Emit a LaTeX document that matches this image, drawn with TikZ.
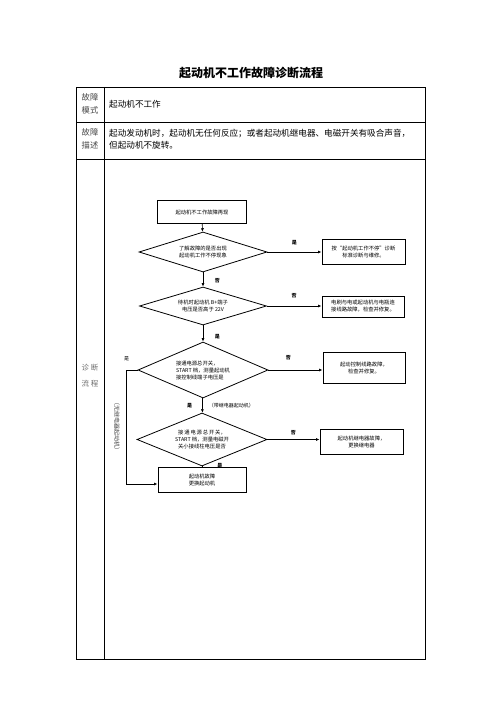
\documentclass[tikz,border=0pt]{standalone}
\usepackage{fontspec}
\setmainfont{Noto Sans CJK SC}
\usepackage{xcolor}
\usepackage{tikz}
\usetikzlibrary{arrows.meta, shapes.geometric, positioning}
\definecolor{headgray}{RGB}{70,70,70}
\definecolor{lightgray}{RGB}{110,110,110}

\begin{document}
\begin{tikzpicture}[x=1pt, y=-1pt,
  flowfont/.style = {font=\fontsize{5.3}{7}\selectfont},
  box/.style      = {rectangle, draw, line width=1pt, flowfont, align=center, inner sep=1pt},
  decision/.style = {diamond, draw, line width=0.8pt, flowfont, align=center, inner sep=0pt},
  arr/.style      = {-{Latex[length=3.5pt,width=3pt]}, line width=0.7pt},
  yesno/.style    = {font=\fontsize{5}{6}\selectfont\bfseries, inner sep=0pt},
  cellhead/.style = {font=\fontsize{8.3}{12.5}\selectfont, align=center, text=headgray, inner sep=0pt},
  celltext/.style = {font=\fontsize{8.6}{11.5}\selectfont, align=left, anchor=west, inner sep=0pt},
  grid/.style     = {line width=0.9pt},
]
\useasboundingbox (0,0) rectangle (502,711);
% Title and table
\node[font=\fontsize{12}{14}\selectfont\bfseries, inner sep=0pt] (title) at (251,73) {起动机不工作故障诊断流程};
\draw[grid] (76,87) rectangle (425,659);
\draw[grid] (104,87) -- (104,659);
\draw[grid] (76,122) -- (425,122);
\draw[grid] (76,159) -- (425,159);
\node[cellhead] (hmode) at (90,104) {故障\\模式};
\node[celltext] (mode) at (109,104) {起动机不工作};
\node[cellhead] (hdesc) at (90,139) {故障\\描述};
\node[celltext] (desc) at (109,139) {起动发动机时，起动机无任何反应；或者起动机继电器、电磁开关有吸合声音，\\但起动机不旋转。};
\node[cellhead, font=\fontsize{7.5}{16}\selectfont, text=lightgray] (hdiag) at (90,376) {诊\hspace{2pt}断\\流\hspace{2pt}程};
% Main column
\node[box, minimum width=89pt, minimum height=22pt] (redo) at (202,212) {起动机不工作故障再现};
\node[decision, minimum width=128pt, minimum height=40pt, aspect=3.2] (qrun) at (203,252) {了解故障的是否出现\\起动机工作不停现象};
\node[decision, minimum width=127pt, minimum height=38pt, aspect=3.3] (qvolt) at (203,306) {待机时起动机 B+端子\\电压是否高于 22V};
\node[decision, minimum width=130pt, minimum height=56pt, aspect=2.3, align=left] (qctrl) at (203,370) {接通电源总开关，\\START 档，测量起动机\\接控制线端子电压是};
\node[decision, minimum width=130pt, minimum height=53pt, aspect=2.4] (qrelay) at (202,439.5) {接\,通\,电\,源\,总\,开\,关，\\START 档，测量电磁开\\关小接线柱电压是否};
\node[box, minimum width=88pt, minimum height=25pt] (motor) at (202,479.5) {起动机故障\\更换起动机};
% Right column
\node[box, minimum width=83pt, minimum height=25pt] (runfix) at (363.5,251.5) {按“起动机工作不停”诊断\\标准诊断与维修。};
\node[box, minimum width=82pt, minimum height=21pt] (cablefix) at (363,306.5) {电刷与电或起动机与电瓶连\\接线路故障，检查并修复。};
\node[box, minimum width=82pt, minimum height=31pt] (ctrlfix) at (364,367.5) {起动控制线路故障，\\检查并修复。};
\node[box, minimum width=83pt, minimum height=25pt] (relayfix) at (361.5,441.5) {起动机继电器故障，\\更换继电器};
% Arrows down
\draw[arr] (redo) -- (qrun);
\draw[arr] (qrun) -- node[yesno, right=11.5pt, pos=.6] {否} (qvolt);
\draw[arr] (qvolt) -- node[yesno, right=11.5pt, pos=.7] {是} (qctrl);
\draw[arr] (qctrl) -- node[yesno, left=10pt] {是}
  node[right=6pt, font=\fontsize{5}{6}\selectfont, inner sep=0pt] {（带继电器起动机）} (qrelay);
\draw[line width=0.7pt] (qrelay.south) -- node[yesno, right=15pt, yshift=1pt] {是} (motor.north);
% Arrows right
\draw[arr] (qrun.east) -- node[yesno, above=7pt] {是} (qrun.east -| runfix.west);
\draw[arr] (qvolt.east) -- node[yesno, above=7.5pt] {否} (qvolt.east -| cablefix.west);
\draw[arr] (qctrl.east) -- node[yesno, above=10pt, pos=.37] {否} (qctrl.east -| ctrlfix.west);
\draw[arr] (qrelay.east) -- node[yesno, above=4.5pt] {否} (qrelay.east -| relayfix.west);
% Loop without relay
\draw[arr] (qctrl.west) -- ++(-11,0) node[yesno, above=8.5pt, font=\fontsize{5}{6}\selectfont] {是} |- ([yshift=-4.5pt]motor.west);
\node[rotate=-90, font=\fontsize{6}{7}\selectfont, text=headgray, inner sep=0pt] (norelay) at (117,426) {（无继电器起动机）};
\end{tikzpicture}
\end{document}
